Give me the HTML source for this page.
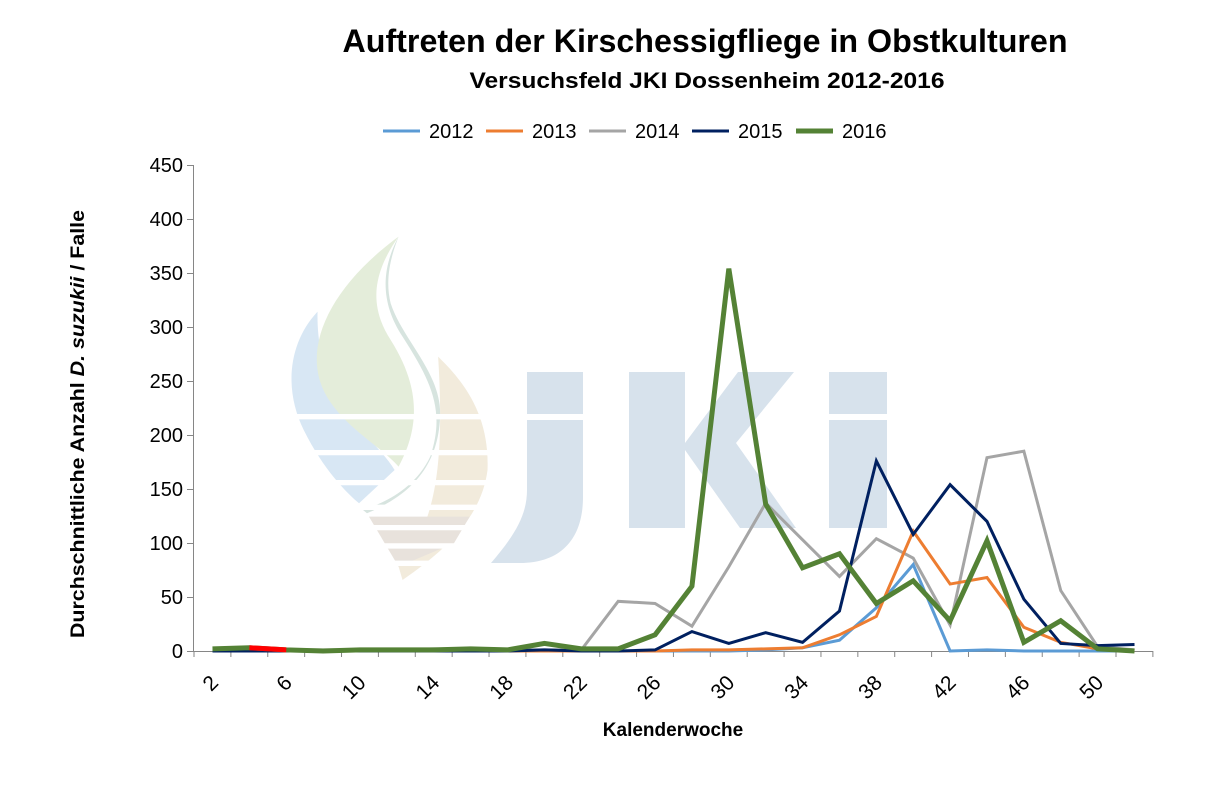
<!DOCTYPE html>
<html><head><meta charset="utf-8"><style>
html,body{margin:0;padding:0;background:#fff}
svg{display:block;font-family:"Liberation Sans",sans-serif}
</style></head><body>
<svg width="1205" height="809" viewBox="0 0 1205 809" xmlns="http://www.w3.org/2000/svg">
<rect width="1205" height="809" fill="#fff"/>
<g transform="translate(280,230) scale(0.3953,0.3333)">
<path d="M95,245 C20,340 10,480 60,600 C110,720 170,790 200,820 L290,720 C240,620 90,520 95,245 Z" fill="#d8e7f4"/>
<path d="M300,20 C150,150 80,300 95,420 C110,560 250,640 300,710 C350,600 360,480 280,330 C220,220 240,120 300,20 Z" fill="#e4edda"/>
<path d="M400,380 C470,460 530,560 525,720 C510,860 420,960 310,1050 L300,1010 C380,900 420,760 400,380 Z" fill="#f2ebdc"/>
<path d="M300,20 C250,130 260,230 310,320 C380,450 420,540 380,680 C340,780 260,820 210,840 L220,850 C320,800 400,720 405,560 C410,430 310,330 280,220 C265,150 280,80 300,20 Z" fill="#d7e4df"/>
<path d="M225,860 L480,860 L440,940 L300,1010 Z" fill="#e8e2dc"/>
<g stroke="#fff" stroke-width="16">
<line x1="0" y1="560" x2="560" y2="560"/><line x1="0" y1="668" x2="560" y2="668"/>
<line x1="0" y1="758" x2="560" y2="758"/><line x1="0" y1="832" x2="560" y2="832"/>
<line x1="0" y1="893" x2="560" y2="893"/><line x1="0" y1="948" x2="560" y2="948"/>
<line x1="0" y1="1000" x2="560" y2="1000"/>
</g>
</g>
<g fill="#d7e2ec">
<rect x="527" y="372" width="56" height="42"/>
<path d="M527,420 L583,420 L583,497 C583,540 560,563 520,563 L491,563 C515,535 527,515 527,490 Z"/>
<rect x="629" y="372" width="56" height="156"/>
<path d="M685,443 L738,372 L794,372 L736,443 L796,528 L740,528 L685,450 Z"/>
<rect x="829" y="372" width="58" height="42"/>
<rect x="829" y="420" width="58" height="108"/>
</g>
<text x="705" y="52" text-anchor="middle" font-size="32" font-weight="bold" textLength="725" lengthAdjust="spacingAndGlyphs">Auftreten der Kirschessigfliege in Obstkulturen</text>
<text x="707" y="88" text-anchor="middle" font-size="22" font-weight="bold" textLength="475" lengthAdjust="spacingAndGlyphs">Versuchsfeld JKI Dossenheim 2012-2016</text>
<g font-size="20">
<line x1="383" y1="131" x2="420" y2="131" stroke="#5b9bd5" stroke-width="3"/><text x="429" y="138">2012</text>
<line x1="486" y1="131" x2="523" y2="131" stroke="#ed7d31" stroke-width="3"/><text x="532" y="138">2013</text>
<line x1="589" y1="131" x2="626" y2="131" stroke="#a5a5a5" stroke-width="3"/><text x="635" y="138">2014</text>
<line x1="692" y1="131" x2="729" y2="131" stroke="#002060" stroke-width="3"/><text x="738" y="138">2015</text>
<line x1="796" y1="131" x2="833" y2="131" stroke="#548235" stroke-width="5"/><text x="842" y="138">2016</text>
</g>
<g stroke="#868686" stroke-width="1">
<line x1="193.5" y1="165" x2="193.5" y2="651"/>
<line x1="193" y1="651.5" x2="1153" y2="651.5"/>
<line x1="187" y1="165.5" x2="193" y2="165.5"/><line x1="187" y1="219.5" x2="193" y2="219.5"/>
<line x1="187" y1="273.5" x2="193" y2="273.5"/><line x1="187" y1="327.5" x2="193" y2="327.5"/>
<line x1="187" y1="381.5" x2="193" y2="381.5"/><line x1="187" y1="435.5" x2="193" y2="435.5"/>
<line x1="187" y1="489.5" x2="193" y2="489.5"/><line x1="187" y1="543.5" x2="193" y2="543.5"/>
<line x1="187" y1="597.5" x2="193" y2="597.5"/><line x1="187" y1="651.5" x2="193" y2="651.5"/>
</g>
<g id="xt" stroke="#868686"></g>
<g font-size="20" text-anchor="end">
<text x="183" y="172">450</text><text x="183" y="226">400</text><text x="183" y="280">350</text>
<text x="183" y="334">300</text><text x="183" y="388">250</text><text x="183" y="442">200</text>
<text x="183" y="496">150</text><text x="183" y="550">100</text><text x="183" y="604">50</text>
<text x="183" y="658">0</text>
</g>
<g id="xl" font-size="21" text-anchor="end"></g>
<text x="673" y="736" text-anchor="middle" font-size="19" font-weight="bold">Kalenderwoche</text>
<text transform="translate(84,424) rotate(-90)" text-anchor="middle" font-size="19" font-weight="bold" textLength="428" lengthAdjust="spacingAndGlyphs">Durchschnittliche Anzahl <tspan font-style="italic">D. suzukii</tspan> / Falle</text>
<g id="series" fill="none" stroke-linejoin="miter"></g>
</svg>
<script>
var NS="http://www.w3.org/2000/svg";
function X(i){return 212.5+36.88*i;}
function Y(v){return 651-v*1.08;}
var xt=document.getElementById("xt"),xl=document.getElementById("xl");
for(var k=0;k<=26;k++){var x=194+36.88*k;var l=document.createElementNS(NS,"line");l.setAttribute("x1",x);l.setAttribute("x2",x);l.setAttribute("y1",651);l.setAttribute("y2",657);xt.appendChild(l);}
for(var i=0;i<=24;i+=2){var t=document.createElementNS(NS,"text");var x=X(i)+7,y=684;t.setAttribute("x",x);t.setAttribute("y",y);t.setAttribute("transform","rotate(-45 "+x+" "+y+")");t.textContent=2+2*i;xl.appendChild(t);}
var S=[
["#a5a5a5",3,[1,1,1,1,1,1,2,1,1,1,1,46,44,23,78,137,103,69,104,86,24,179,185,56,4,1]],
["#5b9bd5",3,[0,0,0,0,0,0,0,0,0,0,0,0,0,0,0,1,3,10,40,80,0,1,0,0,0,0]],
["#ed7d31",3,[0,0,0,0,0,0,0,0,0,0,0,0,0,1,1,2,3,15,32,111,62,68,22,8,2,0]],
["#002060",3,[0,0,0,0,0,0,0,0,0,1,0,0,1,18,7,17,8,37,176,108,154,120,48,7,5,6]],
["#548235",5,[2,3,1,0,1,1,1,2,1,7,2,2,15,60,354,136,77,90,44,65,28,102,8,28,2,0]]
];
var g=document.getElementById("series");
S.forEach(function(s){var p=document.createElementNS(NS,"polyline");p.setAttribute("points",s[2].map(function(v,i){return X(i)+","+Y(v)}).join(" "));p.setAttribute("stroke",s[0]);p.setAttribute("stroke-width",s[1]);g.appendChild(p);});
var r=document.createElementNS(NS,"line");r.setAttribute("x1",X(1));r.setAttribute("y1",Y(3));r.setAttribute("x2",X(2));r.setAttribute("y2",Y(1));r.setAttribute("stroke","#ff0000");r.setAttribute("stroke-width",5);g.appendChild(r);
</script>
</body></html>
